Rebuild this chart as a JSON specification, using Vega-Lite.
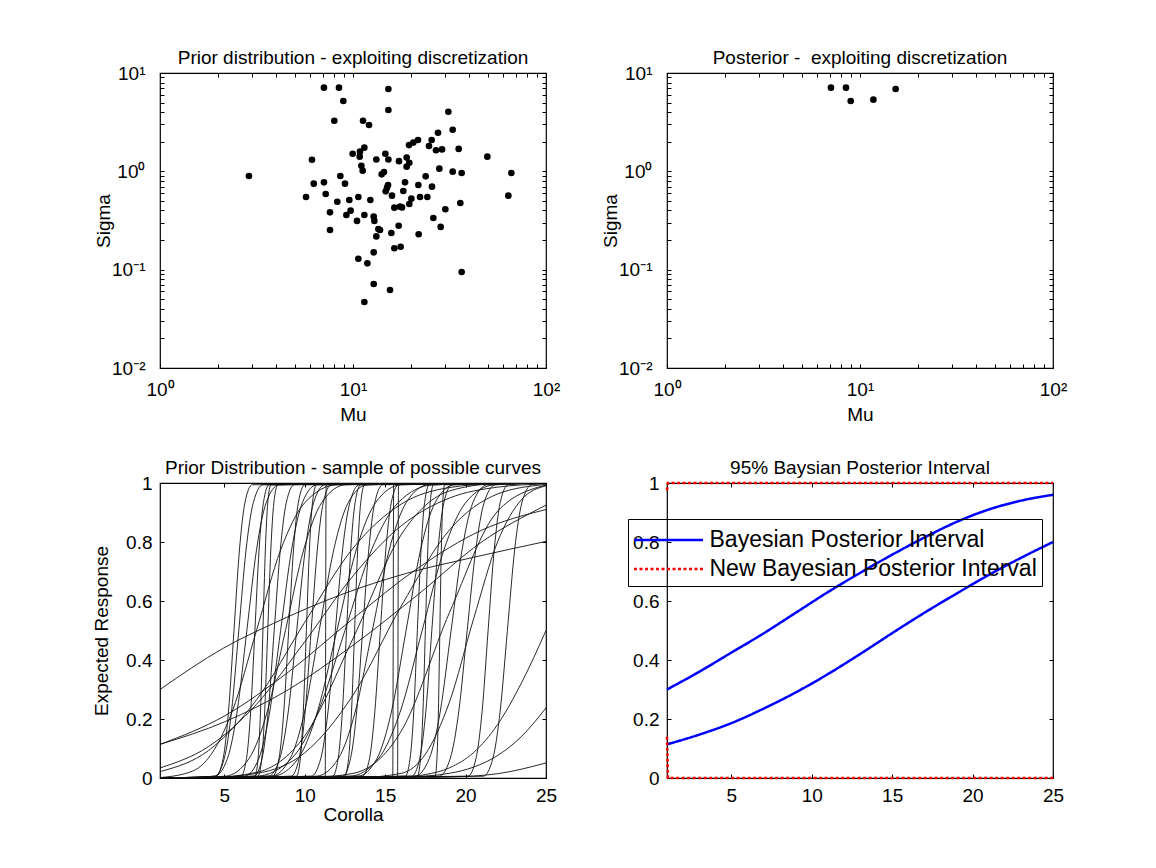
{
"$schema": "https://vega.github.io/schema/vega-lite/v6.json",
"autosize": {"type": "none"},
"padding": {"left": 160, "top": 73, "right": 996, "bottom": 795},
"background": "white",
"bounds": "flush",
"columns": 2,
"spacing": {"row": 115, "column": 121},
"config": {
  "font": "Liberation Sans",
  "view": {"stroke": "black", "strokeWidth": 1.2, "fill": "white"},
  "axis": {"domain": false, "grid": false, "ticks": true, "tickColor": "black", "tickWidth": 1, "tickSize": -4,
    "labelColor": "black", "labelFontSize": 19, "labelFont": "Liberation Sans", "titleFont": "Liberation Sans",
    "titleFontSize": 19, "titleFontWeight": "normal", "titleColor": "black", "labelFlush": false, "labelOverlap": false, "labelBound": false},
  "title": {"font": "Liberation Sans", "fontSize": 19, "fontWeight": "normal", "color": "black", "offset": -4, "anchor": "middle"}
},
"datasets": {
  "prior": [
    {"mu":7.07,"sigma":7.10},{"mu":8.46,"sigma":7.10},{"mu":15.25,"sigma":6.88},{"mu":8.91,"sigma":5.19},{"mu":15.25,"sigma":4.20},
    {"mu":31.19,"sigma":4.04},{"mu":8.00,"sigma":3.27},{"mu":11.27,"sigma":3.27},{"mu":12.11,"sigma":2.96},{"mu":32.85,"sigma":2.65},
    {"mu":27.57,"sigma":2.47},{"mu":25.56,"sigma":2.08},{"mu":21.72,"sigma":2.08},{"mu":20.54,"sigma":1.96},{"mu":19.51,"sigma":1.85},
    {"mu":24.76,"sigma":1.81},{"mu":26.92,"sigma":1.64},{"mu":28.92,"sigma":1.67},{"mu":35.28,"sigma":1.69},{"mu":11.45,"sigma":1.74},
    {"mu":10.87,"sigma":1.585},{"mu":9.96,"sigma":1.51},{"mu":10.83,"sigma":1.41},{"mu":14.71,"sigma":1.51},{"mu":15.25,"sigma":1.32},
    {"mu":13.21,"sigma":1.32},{"mu":17.31,"sigma":1.27},{"mu":18.97,"sigma":1.38},{"mu":19.58,"sigma":1.22},{"mu":18.97,"sigma":1.115},
    {"mu":49.66,"sigma":1.41},{"mu":6.13,"sigma":1.31},{"mu":11.05,"sigma":1.14},{"mu":11.22,"sigma":1.016},{"mu":28.02,"sigma":1.064},
    {"mu":32.85,"sigma":0.992},{"mu":36.56,"sigma":0.962},{"mu":66.14,"sigma":0.962},{"mu":2.89,"sigma":0.897},{"mu":14.47,"sigma":0.984},
    {"mu":14.08,"sigma":0.932},{"mu":23.80,"sigma":0.889},{"mu":8.60,"sigma":0.897},{"mu":7.07,"sigma":0.773},{"mu":6.26,"sigma":0.749},
    {"mu":9.09,"sigma":0.749},{"mu":18.60,"sigma":0.773},{"mu":21.81,"sigma":0.726},{"mu":25.66,"sigma":0.698},{"mu":15.19,"sigma":0.726},
    {"mu":15.01,"sigma":0.682},{"mu":14.77,"sigma":0.626},{"mu":15.92,"sigma":0.566},{"mu":18.23,"sigma":0.631},{"mu":7.22,"sigma":0.588},
    {"mu":5.71,"sigma":0.548},{"mu":10.66,"sigma":0.548},{"mu":9.57,"sigma":0.511},{"mu":8.29,"sigma":0.491},{"mu":12.30,"sigma":0.511},
    {"mu":22.25,"sigma":0.548},{"mu":24.28,"sigma":0.548},{"mu":20.06,"sigma":0.527},{"mu":19.58,"sigma":0.465},{"mu":35.98,"sigma":0.476},
    {"mu":16.38,"sigma":0.427},{"mu":17.94,"sigma":0.430},{"mu":17.52,"sigma":0.437},{"mu":63.80,"sigma":0.566},{"mu":7.60,"sigma":0.383},
    {"mu":9.72,"sigma":0.398},{"mu":9.24,"sigma":0.360},{"mu":11.45,"sigma":0.360},{"mu":12.80,"sigma":0.346},{"mu":12.90,"sigma":0.313},
    {"mu":10.49,"sigma":0.313},{"mu":26.08,"sigma":0.335},{"mu":30.09,"sigma":0.411},{"mu":17.24,"sigma":0.280},{"mu":13.53,"sigma":0.259},
    {"mu":13.80,"sigma":0.253},{"mu":13.21,"sigma":0.218},{"mu":15.80,"sigma":0.236},{"mu":7.60,"sigma":0.253},{"mu":28.46,"sigma":0.272},
    {"mu":21.89,"sigma":0.229},{"mu":17.66,"sigma":0.171},{"mu":16.38,"sigma":0.165},{"mu":12.80,"sigma":0.150},{"mu":10.66,"sigma":0.129},
    {"mu":11.87,"sigma":0.116},{"mu":36.56,"sigma":0.0947},{"mu":12.80,"sigma":0.0715},{"mu":15.55,"sigma":0.0621},{"mu":11.45,"sigma":0.0469}
  ],
  "post": [
    {"mu":7.07,"sigma":7.10},{"mu":8.46,"sigma":7.10},{"mu":8.95,"sigma":5.19},{"mu":11.73,"sigma":5.36},{"mu":15.30,"sigma":6.88}
  ],
  "curves": [
    {"c":1,"x":1,"y":0},{"c":1,"x":4.48,"y":0.006},{"c":1,"x":4.93,"y":0.067},{"c":1,"x":5.26,"y":0.227},{"c":1,"x":5.6,"y":0.5},{"c":1,"x":5.94,"y":0.773},{"c":1,"x":6.28,"y":0.933},{"c":1,"x":6.73,"y":0.994},{"c":1,"x":25,"y":1},
    {"c":2,"x":1,"y":0},{"c":2,"x":4.4,"y":0.006},{"c":2,"x":5.0,"y":0.067},{"c":2,"x":5.45,"y":0.227},{"c":2,"x":5.9,"y":0.5},{"c":2,"x":6.35,"y":0.773},{"c":2,"x":6.8,"y":0.933},{"c":2,"x":7.4,"y":0.994},{"c":2,"x":25,"y":1},
    {"c":3,"x":1,"y":0},{"c":3,"x":4.4,"y":0.006},{"c":3,"x":5.2,"y":0.067},{"c":3,"x":5.8,"y":0.227},{"c":3,"x":6.4,"y":0.5},{"c":3,"x":7.0,"y":0.773},{"c":3,"x":7.6,"y":0.933},{"c":3,"x":8.4,"y":0.994},{"c":3,"x":25,"y":1},
    {"c":4,"x":1,"y":0},{"c":4,"x":6.03,"y":0.006},{"c":4,"x":6.38,"y":0.067},{"c":4,"x":6.64,"y":0.227},{"c":4,"x":6.9,"y":0.5},{"c":4,"x":7.16,"y":0.773},{"c":4,"x":7.43,"y":0.933},{"c":4,"x":7.78,"y":0.994},{"c":4,"x":25,"y":1},
    {"c":5,"x":1,"y":0},{"c":5,"x":6.9,"y":0.006},{"c":5,"x":7.1,"y":0.067},{"c":5,"x":7.25,"y":0.227},{"c":5,"x":7.4,"y":0.5},{"c":5,"x":7.55,"y":0.773},{"c":5,"x":7.7,"y":0.933},{"c":5,"x":7.9,"y":0.994},{"c":5,"x":25,"y":1},
    {"c":6,"x":1,"y":0},{"c":6,"x":7.08,"y":0.006},{"c":6,"x":7.33,"y":0.067},{"c":6,"x":7.51,"y":0.227},{"c":6,"x":7.7,"y":0.5},{"c":6,"x":7.89,"y":0.773},{"c":6,"x":8.08,"y":0.933},{"c":6,"x":8.33,"y":0.994},{"c":6,"x":25,"y":1},
    {"c":7,"x":1,"y":0},{"c":7,"x":6.85,"y":0.006},{"c":7,"x":7.35,"y":0.067},{"c":7,"x":7.73,"y":0.227},{"c":7,"x":8.1,"y":0.5},{"c":7,"x":8.48,"y":0.773},{"c":7,"x":8.85,"y":0.933},{"c":7,"x":9.35,"y":0.994},{"c":7,"x":25,"y":1},
    {"c":8,"x":1,"y":0},{"c":8,"x":6.25,"y":0.006},{"c":8,"x":7.15,"y":0.067},{"c":8,"x":7.83,"y":0.227},{"c":8,"x":8.5,"y":0.5},{"c":8,"x":9.18,"y":0.773},{"c":8,"x":9.85,"y":0.933},{"c":8,"x":10.75,"y":0.994},{"c":8,"x":25,"y":1},
    {"c":9,"x":1,"y":0},{"c":9,"x":8.0,"y":0.006},{"c":9,"x":8.4,"y":0.067},{"c":9,"x":8.7,"y":0.227},{"c":9,"x":9.0,"y":0.5},{"c":9,"x":9.3,"y":0.773},{"c":9,"x":9.6,"y":0.933},{"c":9,"x":10.0,"y":0.994},{"c":9,"x":25,"y":1},
    {"c":10,"x":1,"y":0},{"c":10,"x":7.75,"y":0.006},{"c":10,"x":8.45,"y":0.067},{"c":10,"x":8.98,"y":0.227},{"c":10,"x":9.5,"y":0.5},{"c":10,"x":10.03,"y":0.773},{"c":10,"x":10.55,"y":0.933},{"c":10,"x":11.25,"y":0.994},{"c":10,"x":25,"y":1},
    {"c":11,"x":1,"y":0},{"c":11,"x":9.48,"y":0.006},{"c":11,"x":9.73,"y":0.067},{"c":11,"x":9.91,"y":0.227},{"c":11,"x":10.1,"y":0.5},{"c":11,"x":10.29,"y":0.773},{"c":11,"x":10.48,"y":0.933},{"c":11,"x":10.73,"y":0.994},{"c":11,"x":25,"y":1},
    {"c":12,"x":1,"y":0},{"c":12,"x":9.15,"y":0.006},{"c":12,"x":9.65,"y":0.067},{"c":12,"x":10.03,"y":0.227},{"c":12,"x":10.4,"y":0.5},{"c":12,"x":10.78,"y":0.773},{"c":12,"x":11.15,"y":0.933},{"c":12,"x":11.65,"y":0.994},{"c":12,"x":25,"y":1},
    {"c":13,"x":1,"y":0},{"c":13,"x":7.9,"y":0.006},{"c":13,"x":9.1,"y":0.067},{"c":13,"x":10.0,"y":0.227},{"c":13,"x":10.9,"y":0.5},{"c":13,"x":11.8,"y":0.773},{"c":13,"x":12.7,"y":0.933},{"c":13,"x":13.9,"y":0.994},{"c":13,"x":25,"y":1},
    {"c":14,"x":1,"y":0},{"c":14,"x":11.27,"y":0},{"c":14,"x":11.33,"y":1},{"c":14,"x":25,"y":1},
    {"c":15,"x":1,"y":0},{"c":15,"x":10.4,"y":0.006},{"c":15,"x":11.0,"y":0.067},{"c":15,"x":11.45,"y":0.227},{"c":15,"x":11.9,"y":0.5},{"c":15,"x":12.35,"y":0.773},{"c":15,"x":12.8,"y":0.933},{"c":15,"x":13.4,"y":0.994},{"c":15,"x":25,"y":1},
    {"c":16,"x":1,"y":0},{"c":16,"x":11.73,"y":0.006},{"c":16,"x":12.08,"y":0.067},{"c":16,"x":12.34,"y":0.227},{"c":16,"x":12.6,"y":0.5},{"c":16,"x":12.86,"y":0.773},{"c":16,"x":13.13,"y":0.933},{"c":16,"x":13.48,"y":0.994},{"c":16,"x":25,"y":1},
    {"c":17,"x":1,"y":0},{"c":17,"x":12.48,"y":0.006},{"c":17,"x":12.73,"y":0.067},{"c":17,"x":12.91,"y":0.227},{"c":17,"x":13.1,"y":0.5},{"c":17,"x":13.29,"y":0.773},{"c":17,"x":13.48,"y":0.933},{"c":17,"x":13.73,"y":0.994},{"c":17,"x":25,"y":1},
    {"c":18,"x":1,"y":0},{"c":18,"x":12.35,"y":0.006},{"c":18,"x":12.85,"y":0.067},{"c":18,"x":13.23,"y":0.227},{"c":18,"x":13.6,"y":0.5},{"c":18,"x":13.98,"y":0.773},{"c":18,"x":14.35,"y":0.933},{"c":18,"x":14.85,"y":0.994},{"c":18,"x":25,"y":1},
    {"c":19,"x":1,"y":0},{"c":19,"x":10.7,"y":0.006},{"c":19,"x":12.1,"y":0.067},{"c":19,"x":13.15,"y":0.227},{"c":19,"x":14.2,"y":0.5},{"c":19,"x":15.25,"y":0.773},{"c":19,"x":16.3,"y":0.933},{"c":19,"x":17.7,"y":0.994},{"c":19,"x":25,"y":1},
    {"c":20,"x":1,"y":0},{"c":20,"x":13.58,"y":0.006},{"c":20,"x":14.03,"y":0.067},{"c":20,"x":14.36,"y":0.227},{"c":20,"x":14.7,"y":0.5},{"c":20,"x":15.04,"y":0.773},{"c":20,"x":15.38,"y":0.933},{"c":20,"x":15.83,"y":0.994},{"c":20,"x":25,"y":1},
    {"c":21,"x":1,"y":0},{"c":21,"x":15.47,"y":0},{"c":21,"x":15.53,"y":1},{"c":21,"x":25,"y":1},
    {"c":22,"x":1,"y":0},{"c":22,"x":15.77,"y":0},{"c":22,"x":15.83,"y":1},{"c":22,"x":25,"y":1},
    {"c":23,"x":1,"y":0},{"c":23,"x":13.3,"y":0.006},{"c":23,"x":14.5,"y":0.067},{"c":23,"x":15.4,"y":0.227},{"c":23,"x":16.3,"y":0.5},{"c":23,"x":17.2,"y":0.773},{"c":23,"x":18.1,"y":0.933},{"c":23,"x":19.3,"y":0.994},{"c":23,"x":25,"y":1},
    {"c":24,"x":1,"y":0},{"c":24,"x":16.25,"y":0.006},{"c":24,"x":16.55,"y":0.067},{"c":24,"x":16.78,"y":0.227},{"c":24,"x":17.0,"y":0.5},{"c":24,"x":17.23,"y":0.773},{"c":24,"x":17.45,"y":0.933},{"c":24,"x":17.75,"y":0.994},{"c":24,"x":25,"y":1},
    {"c":25,"x":1,"y":0},{"c":25,"x":17.0,"y":0.006},{"c":25,"x":17.2,"y":0.067},{"c":25,"x":17.35,"y":0.227},{"c":25,"x":17.5,"y":0.5},{"c":25,"x":17.65,"y":0.773},{"c":25,"x":17.8,"y":0.933},{"c":25,"x":18.0,"y":0.994},{"c":25,"x":25,"y":1},
    {"c":26,"x":1,"y":0},{"c":26,"x":16.65,"y":0.006},{"c":26,"x":17.15,"y":0.067},{"c":26,"x":17.53,"y":0.227},{"c":26,"x":17.9,"y":0.5},{"c":26,"x":18.28,"y":0.773},{"c":26,"x":18.65,"y":0.933},{"c":26,"x":19.15,"y":0.994},{"c":26,"x":25,"y":1},
    {"c":27,"x":1,"y":0},{"c":27,"x":18.1,"y":0.006},{"c":27,"x":18.22,"y":0.067},{"c":27,"x":18.31,"y":0.227},{"c":27,"x":18.4,"y":0.5},{"c":27,"x":18.49,"y":0.773},{"c":27,"x":18.58,"y":0.933},{"c":27,"x":18.7,"y":0.994},{"c":27,"x":25,"y":1},
    {"c":28,"x":1,"y":0},{"c":28,"x":16.85,"y":0.006},{"c":28,"x":17.75,"y":0.067},{"c":28,"x":18.43,"y":0.227},{"c":28,"x":19.1,"y":0.5},{"c":28,"x":19.78,"y":0.773},{"c":28,"x":20.45,"y":0.933},{"c":28,"x":21.35,"y":0.994},{"c":28,"x":25,"y":1},
    {"c":29,"x":1,"y":0},{"c":29,"x":18.35,"y":0.006},{"c":29,"x":19.05,"y":0.067},{"c":29,"x":19.58,"y":0.227},{"c":29,"x":20.1,"y":0.5},{"c":29,"x":20.63,"y":0.773},{"c":29,"x":21.15,"y":0.933},{"c":29,"x":21.85,"y":0.994},{"c":29,"x":25,"y":1},
    {"c":30,"x":1,"y":0},{"c":30,"x":20.15,"y":0.006},{"c":30,"x":20.65,"y":0.067},{"c":30,"x":21.03,"y":0.227},{"c":30,"x":21.4,"y":0.5},{"c":30,"x":21.78,"y":0.773},{"c":30,"x":22.15,"y":0.933},{"c":30,"x":22.65,"y":0.994},{"c":30,"x":25,"y":1},
    {"c":31,"x":1,"y":0},{"c":31,"x":21.1,"y":0.006},{"c":31,"x":21.7,"y":0.067},{"c":31,"x":22.15,"y":0.227},{"c":31,"x":22.6,"y":0.5},{"c":31,"x":23.05,"y":0.773},{"c":31,"x":23.5,"y":0.933},{"c":31,"x":24.1,"y":0.994},{"c":31,"x":25,"y":1},
    {"c":32,"x":1,"y":0.0215},{"c":32,"x":4,"y":0.0924},{"c":32,"x":7,"y":0.265},{"c":32,"x":10,"y":0.528},{"c":32,"x":13,"y":0.779},{"c":32,"x":16,"y":0.9286},{"c":32,"x":19,"y":0.9847},{"c":32,"x":22,"y":0.9979},{"c":32,"x":25,"y":0.9998},
    {"c":33,"x":1,"y":0.034},{"c":33,"x":4,"y":0.106},{"c":33,"x":7,"y":0.25},{"c":33,"x":10,"y":0.462},{"c":33,"x":13,"y":0.685},{"c":33,"x":16,"y":0.855},{"c":33,"x":19,"y":0.949},{"c":33,"x":22,"y":0.986},{"c":33,"x":25,"y":0.997},
    {"c":34,"x":1,"y":0},{"c":34,"x":4,"y":0.001},{"c":34,"x":7,"y":0.019},{"c":34,"x":10,"y":0.143},{"c":34,"x":13,"y":0.473},{"c":34,"x":16,"y":0.825},{"c":34,"x":19,"y":0.973},{"c":34,"x":22,"y":0.998},{"c":34,"x":25,"y":1},
    {"c":35,"x":1,"y":0.0001},{"c":35,"x":4,"y":0.0016},{"c":35,"x":7,"y":0.0155},{"c":35,"x":10,"y":0.0856},{"c":35,"x":13,"y":0.281},{"c":35,"x":16,"y":0.583},{"c":35,"x":19,"y":0.841},{"c":35,"x":22,"y":0.963},{"c":35,"x":25,"y":0.995},
    {"c":36,"x":1,"y":0},{"c":36,"x":10,"y":0.0005},{"c":36,"x":13,"y":0.0156},{"c":36,"x":16,"y":0.159},{"c":36,"x":19,"y":0.561},{"c":36,"x":22,"y":0.905},{"c":36,"x":25,"y":0.993},
    {"c":37,"x":1,"y":0},{"c":37,"x":13,"y":0.0001},{"c":37,"x":16,"y":0.0158},{"c":37,"x":17.5,"y":0.0808},{"c":37,"x":19,"y":0.258},{"c":37,"x":20.5,"y":0.54},{"c":37,"x":22,"y":0.802},{"c":37,"x":23.5,"y":0.945},{"c":37,"x":25,"y":0.9906},
    {"c":38,"x":1,"y":0},{"c":38,"x":13,"y":0.0001},{"c":38,"x":16,"y":0.0032},{"c":38,"x":17.5,"y":0.0116},{"c":38,"x":19,"y":0.0345},{"c":38,"x":20.5,"y":0.0863},{"c":38,"x":22,"y":0.182},{"c":38,"x":23.5,"y":0.325},{"c":38,"x":25,"y":0.5},
    {"c":39,"x":1,"y":0},{"c":39,"x":13,"y":0.0002},{"c":39,"x":16,"y":0.0021},{"c":39,"x":19,"y":0.016},{"c":39,"x":20.5,"y":0.037},{"c":39,"x":22,"y":0.0766},{"c":39,"x":23.5,"y":0.142},{"c":39,"x":25,"y":0.2376},
    {"c":40,"x":1,"y":0},{"c":40,"x":16,"y":0.0005},{"c":40,"x":19,"y":0.0032},{"c":40,"x":22,"y":0.0146},{"c":40,"x":25,"y":0.051},
    {"c":41,"x":1,"y":0.30},{"c":41,"x":4.94,"y":0.44},{"c":41,"x":8.05,"y":0.524},{"c":41,"x":12.19,"y":0.62},{"c":41,"x":16.34,"y":0.694},{"c":41,"x":20.49,"y":0.748},{"c":41,"x":25,"y":0.802},
    {"c":42,"x":1,"y":0.114},{"c":42,"x":5,"y":0.19},{"c":42,"x":9,"y":0.30},{"c":42,"x":13,"y":0.45},{"c":42,"x":17,"y":0.62},{"c":42,"x":21,"y":0.80},{"c":42,"x":25,"y":0.925},
    {"c":43,"x":1,"y":0.114},{"c":43,"x":5,"y":0.21},{"c":43,"x":9,"y":0.36},{"c":43,"x":13,"y":0.54},{"c":43,"x":17,"y":0.71},{"c":43,"x":21,"y":0.84},{"c":43,"x":25,"y":0.91},
    {"c":44,"x":1,"y":0.0013},{"c":44,"x":3,"y":0.0228},{"c":44,"x":4,"y":0.0668},{"c":44,"x":5.5,"y":0.227},{"c":44,"x":7,"y":0.5},{"c":44,"x":8.5,"y":0.773},{"c":44,"x":10,"y":0.933},{"c":44,"x":12,"y":0.994},{"c":44,"x":25,"y":1},
    {"c":45,"x":1,"y":0},{"c":45,"x":7,"y":0.006},{"c":45,"x":9.2,"y":0.0668},{"c":45,"x":10.85,"y":0.227},{"c":45,"x":12.5,"y":0.5},{"c":45,"x":14.15,"y":0.773},{"c":45,"x":15.8,"y":0.933},{"c":45,"x":18,"y":0.994},{"c":45,"x":25,"y":1},
    {"c":46,"x":1,"y":0},{"c":46,"x":12.8,"y":0.006},{"c":46,"x":14.6,"y":0.067},{"c":46,"x":15.95,"y":0.227},{"c":46,"x":17.3,"y":0.5},{"c":46,"x":18.65,"y":0.773},{"c":46,"x":20.0,"y":0.933},{"c":46,"x":21.8,"y":0.994},{"c":46,"x":25,"y":1},
    {"c":47,"x":1,"y":0},{"c":47,"x":8.0,"y":0.006},{"c":47,"x":9.6,"y":0.067},{"c":47,"x":10.8,"y":0.227},{"c":47,"x":12.0,"y":0.5},{"c":47,"x":13.2,"y":0.773},{"c":47,"x":14.4,"y":0.933},{"c":47,"x":16.0,"y":0.994},{"c":47,"x":25,"y":1},
    {"c":48,"x":1,"y":0},{"c":48,"x":5.05,"y":0.006},{"c":48,"x":6.55,"y":0.067},{"c":48,"x":7.68,"y":0.227},{"c":48,"x":8.8,"y":0.5},{"c":48,"x":9.93,"y":0.773},{"c":48,"x":11.05,"y":0.933},{"c":48,"x":12.55,"y":0.994},{"c":48,"x":25,"y":1}
  ],
  "interval": [
    {"series":"Bayesian Posterior Interval","bound":"upper","x":1,"y":0.30},
    {"series":"Bayesian Posterior Interval","bound":"upper","x":3,"y":0.36},
    {"series":"Bayesian Posterior Interval","bound":"upper","x":5,"y":0.425},
    {"series":"Bayesian Posterior Interval","bound":"upper","x":7,"y":0.49},
    {"series":"Bayesian Posterior Interval","bound":"upper","x":9,"y":0.56},
    {"series":"Bayesian Posterior Interval","bound":"upper","x":11,"y":0.63},
    {"series":"Bayesian Posterior Interval","bound":"upper","x":13,"y":0.695},
    {"series":"Bayesian Posterior Interval","bound":"upper","x":15,"y":0.757},
    {"series":"Bayesian Posterior Interval","bound":"upper","x":17,"y":0.815},
    {"series":"Bayesian Posterior Interval","bound":"upper","x":19,"y":0.868},
    {"series":"Bayesian Posterior Interval","bound":"upper","x":21,"y":0.91},
    {"series":"Bayesian Posterior Interval","bound":"upper","x":23,"y":0.94},
    {"series":"Bayesian Posterior Interval","bound":"upper","x":25,"y":0.96},
    {"series":"Bayesian Posterior Interval","bound":"lower","x":1,"y":0.114},
    {"series":"Bayesian Posterior Interval","bound":"lower","x":3,"y":0.147},
    {"series":"Bayesian Posterior Interval","bound":"lower","x":5,"y":0.186},
    {"series":"Bayesian Posterior Interval","bound":"lower","x":7,"y":0.235},
    {"series":"Bayesian Posterior Interval","bound":"lower","x":9,"y":0.290},
    {"series":"Bayesian Posterior Interval","bound":"lower","x":11,"y":0.352},
    {"series":"Bayesian Posterior Interval","bound":"lower","x":13,"y":0.420},
    {"series":"Bayesian Posterior Interval","bound":"lower","x":15,"y":0.491},
    {"series":"Bayesian Posterior Interval","bound":"lower","x":17,"y":0.560},
    {"series":"Bayesian Posterior Interval","bound":"lower","x":19,"y":0.625},
    {"series":"Bayesian Posterior Interval","bound":"lower","x":21,"y":0.688},
    {"series":"Bayesian Posterior Interval","bound":"lower","x":23,"y":0.746},
    {"series":"Bayesian Posterior Interval","bound":"lower","x":25,"y":0.800},
    {"series":"New Bayesian Posterior Interval","bound":"upper","x":1,"y":0.975},
    {"series":"New Bayesian Posterior Interval","bound":"upper","x":1.06,"y":1},
    {"series":"New Bayesian Posterior Interval","bound":"upper","x":25,"y":1},
    {"series":"New Bayesian Posterior Interval","bound":"lower","x":1,"y":0.14},
    {"series":"New Bayesian Posterior Interval","bound":"lower","x":1.06,"y":0},
    {"series":"New Bayesian Posterior Interval","bound":"lower","x":25,"y":0}
  ]
},
"concat": [
  {
    "title": "Prior distribution - exploiting discretization",
    "width": 386, "height": 295,
    "data": {"name": "prior"},
    "layer": [
      {"mark": {"type": "circle", "size": 44, "color": "black", "opacity": 1},
       "encoding": {
         "x": {"field": "mu", "type": "quantitative", "scale": {"type": "log", "domain": [1, 100], "nice": false},
               "axis": {"orient": "bottom", "title": "Mu", "values": [1,2,3,4,5,6,7,8,9,10,20,30,40,50,60,70,80,90,100], "labelExpr": "datum.value == 1 ? '10⁰' : datum.value == 10 ? '10¹' : datum.value == 100 ? '10²' : ''", "labelPadding": 16, "titlePadding": 6}},
         "y": {"field": "sigma", "type": "quantitative", "scale": {"type": "log", "domain": [0.01, 10], "nice": false},
               "axis": {"orient": "left", "title": "Sigma", "values": [0.01,0.02,0.03,0.04,0.05,0.06,0.07,0.08,0.09,0.1,0.2,0.3,0.4,0.5,0.6,0.7,0.8,0.9,1,2,3,4,5,6,7,8,9,10], "labelExpr": "datum.value == 0.01 ? '10⁻²' : datum.value == 0.1 ? '10⁻¹' : datum.value == 1 ? '10⁰' : datum.value == 10 ? '10¹' : ''", "labelPadding": 19, "titlePadding": -2}}
       }},
      {"mark": {"type": "circle", "opacity": 0},
       "encoding": {
         "x": {"field": "mu", "type": "quantitative", "axis": {"orient": "top", "labels": false, "title": null, "values": [1,2,3,4,5,6,7,8,9,10,20,30,40,50,60,70,80,90,100]}},
         "y": {"field": "sigma", "type": "quantitative", "axis": {"orient": "right", "labels": false, "title": null, "values": [0.01,0.02,0.03,0.04,0.05,0.06,0.07,0.08,0.09,0.1,0.2,0.3,0.4,0.5,0.6,0.7,0.8,0.9,1,2,3,4,5,6,7,8,9,10]}}
       }}
    ],
    "resolve": {"axis": {"x": "independent", "y": "independent"}}
  },
  {
    "title": "Posterior - \u00a0exploiting discretization",
    "width": 386, "height": 295,
    "data": {"name": "post"},
    "layer": [
      {"mark": {"type": "circle", "size": 44, "color": "black", "opacity": 1},
       "encoding": {
         "x": {"field": "mu", "type": "quantitative", "scale": {"type": "log", "domain": [1, 100], "nice": false},
               "axis": {"orient": "bottom", "title": "Mu", "values": [1,2,3,4,5,6,7,8,9,10,20,30,40,50,60,70,80,90,100], "labelExpr": "datum.value == 1 ? '10⁰' : datum.value == 10 ? '10¹' : datum.value == 100 ? '10²' : ''", "labelPadding": 16, "titlePadding": 6}},
         "y": {"field": "sigma", "type": "quantitative", "scale": {"type": "log", "domain": [0.01, 10], "nice": false},
               "axis": {"orient": "left", "title": "Sigma", "values": [0.01,0.02,0.03,0.04,0.05,0.06,0.07,0.08,0.09,0.1,0.2,0.3,0.4,0.5,0.6,0.7,0.8,0.9,1,2,3,4,5,6,7,8,9,10], "labelExpr": "datum.value == 0.01 ? '10⁻²' : datum.value == 0.1 ? '10⁻¹' : datum.value == 1 ? '10⁰' : datum.value == 10 ? '10¹' : ''", "labelPadding": 19, "titlePadding": -2}}
       }},
      {"mark": {"type": "circle", "opacity": 0},
       "encoding": {
         "x": {"field": "mu", "type": "quantitative", "axis": {"orient": "top", "labels": false, "title": null, "values": [1,2,3,4,5,6,7,8,9,10,20,30,40,50,60,70,80,90,100]}},
         "y": {"field": "sigma", "type": "quantitative", "axis": {"orient": "right", "labels": false, "title": null, "values": [0.01,0.02,0.03,0.04,0.05,0.06,0.07,0.08,0.09,0.1,0.2,0.3,0.4,0.5,0.6,0.7,0.8,0.9,1,2,3,4,5,6,7,8,9,10]}}
       }}
    ],
    "resolve": {"axis": {"x": "independent", "y": "independent"}}
  },
  {
    "title": "Prior Distribution - sample of possible curves",
    "width": 386, "height": 295,
    "data": {"name": "curves"},
    "layer": [
      {"mark": {"type": "line", "color": "#111111", "strokeWidth": 0.9, "interpolate": "monotone", "clip": true},
       "encoding": {
         "x": {"field": "x", "type": "quantitative", "scale": {"domain": [1, 25], "nice": false, "zero": false},
               "axis": {"orient": "bottom", "title": "Corolla", "values": [5,10,15,20,25], "labelPadding": 12, "titlePadding": 0}},
         "y": {"field": "y", "type": "quantitative", "scale": {"domain": [0, 1], "nice": false},
               "axis": {"orient": "left", "title": "Expected Response", "values": [0,0.2,0.4,0.6,0.8,1], "format": "~g", "labelPadding": 12, "titlePadding": 14}},
         "detail": {"field": "c", "type": "nominal"}
       }},
      {"mark": {"type": "point", "opacity": 0},
       "encoding": {
         "x": {"field": "x", "type": "quantitative", "axis": {"orient": "top", "labels": false, "title": null, "values": [5,10,15,20,25]}},
         "y": {"field": "y", "type": "quantitative", "axis": {"orient": "right", "labels": false, "title": null, "values": [0,0.2,0.4,0.6,0.8,1]}}
       }}
    ],
    "resolve": {"axis": {"x": "independent", "y": "independent"}}
  },
  {
    "title": "95% Baysian Posterior Interval",
    "width": 386, "height": 295,
    "data": {"name": "interval"},
    "layer": [
      {"transform": [{"filter": "datum.series == 'Bayesian Posterior Interval'"}],
       "mark": {"type": "line", "strokeWidth": 2.5, "interpolate": "monotone"},
       "encoding": {
         "x": {"field": "x", "type": "quantitative", "scale": {"domain": [1, 25], "nice": false, "zero": false},
               "axis": {"orient": "bottom", "title": null, "values": [5,10,15,20,25], "labelPadding": 12}},
         "y": {"field": "y", "type": "quantitative", "scale": {"domain": [0, 1], "nice": false},
               "axis": {"orient": "left", "title": null, "values": [0,0.2,0.4,0.6,0.8,1], "format": "~g", "labelPadding": 12}},
         "color": {"field": "series", "type": "nominal", "scale": {"domain": ["Bayesian Posterior Interval", "New Bayesian Posterior Interval"], "range": ["#0000ff", "#ff0000"]},
                   "legend": {"orient": "none", "legendX": 468, "legendY": 446, "title": null, "strokeColor": "black", "padding": 4.5, "rowPadding": 0, "symbolType": "M-1,0L3.6,0", "symbolSize": 900, "symbolStrokeWidth": 2.5, "labelFont": "Liberation Sans", "labelFontSize": 23, "labelColor": "black", "labelOffset": 44, "labelLimit": 600}},
         "strokeDash": {"field": "series", "type": "nominal", "scale": {"domain": ["Bayesian Posterior Interval", "New Bayesian Posterior Interval"], "range": [[1, 0], [3, 2.5]]},
                   "legend": {"orient": "none", "legendX": 468, "legendY": 446, "title": null, "strokeColor": "black", "padding": 4.5, "rowPadding": 0, "symbolType": "M-1,0L3.6,0", "symbolSize": 900, "symbolStrokeWidth": 2.5, "labelFont": "Liberation Sans", "labelFontSize": 23, "labelColor": "black", "labelOffset": 44, "labelLimit": 600}},
         "detail": {"field": "bound", "type": "nominal"}
       }},
      {"transform": [{"filter": "datum.series == 'New Bayesian Posterior Interval'"}],
       "mark": {"type": "line", "strokeWidth": 2.5},
       "encoding": {
         "x": {"field": "x", "type": "quantitative", "axis": null},
         "y": {"field": "y", "type": "quantitative", "axis": null},
         "color": {"field": "series", "type": "nominal"},
         "strokeDash": {"field": "series", "type": "nominal"},
         "detail": {"field": "bound", "type": "nominal"}
       }},
      {"mark": {"type": "point", "opacity": 0},
       "encoding": {
         "x": {"field": "x", "type": "quantitative", "axis": {"orient": "top", "labels": false, "title": null, "values": [5,10,15,20,25]}},
         "y": {"field": "y", "type": "quantitative", "axis": {"orient": "right", "labels": false, "title": null, "values": [0,0.2,0.4,0.6,0.8,1]}}
       }}
    ],
    "resolve": {"axis": {"x": "independent", "y": "independent"}}
  }
]
}
